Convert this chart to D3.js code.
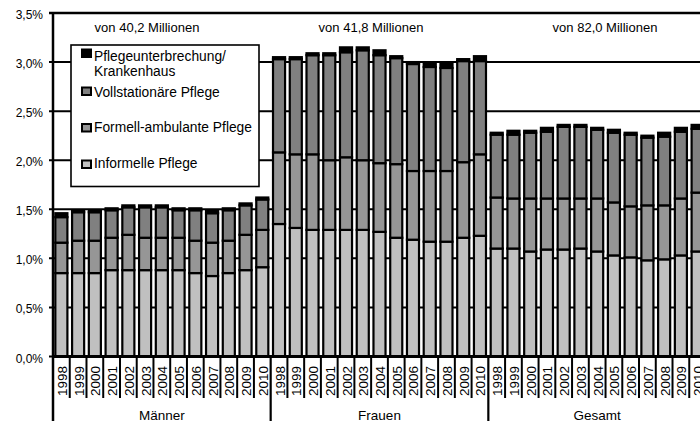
<!DOCTYPE html>
<html><head><meta charset="utf-8">
<script src="https://cdn.jsdelivr.net/npm/d3@7"></script>
<style>
html,body{margin:0;padding:0;background:#fff;overflow:hidden}
text{font-family:"Liberation Sans",Arial,sans-serif;fill:#000}
</style></head>
<body><svg id="c" width="700" height="421"></svg>
<script>
// ---- data ----
const years = ["1998","1999","2000","2001","2002","2003","2004","2005","2006","2007","2008","2009","2010"];
const groups = ["Männer","Frauen","Gesamt"];
const groupTotals = ["von 40,2 Millionen","von 41,8 Millionen","von 82,0 Millionen"];
const seriesNames = ["Informelle Pflege","Formell-ambulante Pflege","Vollstationäre Pflege","Pflegeunterbrechung/ Krankenhaus"];
const yTicks = [0,0.5,1.0,1.5,2.0,2.5,3.0,3.5];
const yTickLabels = ["0,0%","0,5%","1,0%","1,5%","2,0%","2,5%","3,0%","3,5%"];
// values in % (Männer 1998-2010, Frauen 1998-2010, Gesamt 1998-2010)
const informelle = [0.85,0.85,0.85,0.88,0.88,0.88,0.88,0.88,0.85,0.82,0.85,0.88,0.91,
                    1.35,1.31,1.29,1.29,1.29,1.29,1.27,1.21,1.19,1.17,1.17,1.21,1.23,
                    1.10,1.10,1.07,1.09,1.09,1.10,1.07,1.03,1.01,0.98,0.99,1.03,1.07];
const ambulant   = [0.31,0.33,0.33,0.33,0.36,0.33,0.33,0.33,0.33,0.34,0.33,0.36,0.38,
                    0.73,0.75,0.77,0.71,0.74,0.71,0.70,0.75,0.70,0.72,0.72,0.77,0.83,
                    0.52,0.51,0.54,0.52,0.52,0.51,0.54,0.54,0.52,0.56,0.55,0.58,0.60];
const stationaer = [0.26,0.29,0.29,0.28,0.28,0.31,0.31,0.28,0.31,0.30,0.31,0.30,0.31,
                    0.95,0.97,1.01,1.07,1.07,1.12,1.10,1.08,1.09,1.06,1.05,1.03,0.95,
                    0.64,0.65,0.67,0.68,0.73,0.73,0.70,0.71,0.73,0.69,0.70,0.68,0.65];
const krankenhaus= [0.04,0.02,0.02,0.02,0.02,0.02,0.02,0.02,0.02,0.03,0.02,0.02,0.02,
                    0.02,0.02,0.02,0.02,0.05,0.03,0.05,0.02,0.02,0.04,0.04,0.02,0.05,
                    0.02,0.04,0.02,0.04,0.02,0.02,0.02,0.03,0.02,0.02,0.04,0.04,0.04];
const colors = ["#c0c0c0","#969696","#808080","#000000"];

(function(){
// ---- layout ----
const svg = d3.select("#c");
const pLeft = 53, pRight = 706, pTop = 13, pBottom = 356.5;
const y = d3.scaleLinear().domain([0,3.5]).range([pBottom, pTop]);
const gx = d3.scaleBand().domain(groups).range([pLeft, pRight]).padding(0);
const p = 0.28;
const ix = d3.scaleBand().domain(years).range([0, gx.bandwidth()]).paddingInner(p).paddingOuter(p/2);

const rows = [];
groups.forEach((g,gi)=>years.forEach((yr,yi)=>{
  const k = gi*years.length+yi;
  rows.push({group:g, year:yr, s0:informelle[k], s1:ambulant[k], s2:stationaer[k], s3:krankenhaus[k]});
}));
const stacked = d3.stack().keys(["s0","s1","s2","s3"])(rows);

// gridlines
svg.append("g").selectAll("line").data(yTicks).join("line")
  .attr("x1", pLeft-4).attr("x2", 710)
  .attr("y1", d=>y(d)).attr("y2", d=>y(d))
  .attr("stroke","#000").attr("stroke-width", d=>d===3.5?2.6:2);

// bars
svg.append("g").selectAll("g").data(stacked).join("g")
  .attr("fill",(d,i)=>colors[i])
  .selectAll("rect").data(d=>d).join("rect")
  .attr("x", d=>gx(d.data.group)+ix(d.data.year))
  .attr("width", ix.bandwidth())
  .attr("y", d=>y(d[1]))
  .attr("height", d=>Math.max(0,y(d[0])-y(d[1])))
  .attr("stroke","#000").attr("stroke-width",2.2);

// axes lines
svg.append("line").attr("x1",pLeft).attr("x2",pLeft).attr("y1",pTop-1).attr("y2",421)
  .attr("stroke","#000").attr("stroke-width",2.5);
svg.append("line").attr("x1",pLeft).attr("x2",710).attr("y1",pBottom).attr("y2",pBottom)
  .attr("stroke","#000").attr("stroke-width",2.8);

// y tick labels
svg.append("g").selectAll("text").data(yTicks).join("text")
  .attr("x", 43).attr("y", d=>y(d)+6)
  .attr("text-anchor","end").style("font-size","12px")
  .text((d,i)=>yTickLabels[i]);

// year separators and labels
groups.forEach((g,gi)=>{
  const g0 = gx(g);
  years.forEach((yr,yi)=>{
    if(yi>0){
      const sx = g0 + ix.step()*yi;
      svg.append("line").attr("x1",sx).attr("x2",sx).attr("y1",pBottom).attr("y2",398)
        .attr("stroke","#000").attr("stroke-width",2);
    }
    const cx = g0 + ix(yr) + ix.bandwidth()/2;
    svg.append("text").attr("transform",`translate(${cx+5.5},366) rotate(-90)`)
      .attr("text-anchor","end").style("font-size","13.5px").text(yr);
  });
  if(gi>0){
    svg.append("line").attr("x1",g0).attr("x2",g0).attr("y1",pBottom).attr("y2",421)
      .attr("stroke","#000").attr("stroke-width",2.2);
  }
  svg.append("text").attr("x", g0+gx.bandwidth()/2).attr("y",419.5)
    .attr("text-anchor","middle").style("font-size","13.5px").text(g);
});

// top labels
const topLabelX = [147, 371, 605];
svg.append("g").selectAll("text").data(groupTotals).join("text")
  .attr("x",(d,i)=>topLabelX[i]).attr("y",32)
  .attr("text-anchor","middle").style("font-size","13px").text(d=>d);

// legend
const lg = svg.append("g");
lg.append("rect").attr("x",71).attr("y",45).attr("width",188).attr("height",141.5)
  .attr("fill","#fff").attr("stroke","#000").attr("stroke-width",1.6);
const legendItems = [
  {i:3, my:49.5, lines:["Pflegeunterbrechung/","Krankenhaus"], ty:[60.7,76]},
  {i:2, my:87.5, lines:["Vollstationäre Pflege"], ty:[96.7]},
  {i:1, my:124, lines:["Formell-ambulante Pflege"], ty:[131.7]},
  {i:0, my:160.5, lines:["Informelle Pflege"], ty:[168.3]}
];
legendItems.forEach(it=>{
  lg.append("rect").attr("x",82).attr("y",it.my).attr("width",9).attr("height",7.5)
    .attr("fill",colors[it.i]).attr("stroke","#000").attr("stroke-width",2);
  it.lines.forEach((t,k)=>{
    lg.append("text").attr("x",94).attr("y",it.ty[k]).style("font-size","13.8px").text(t);
  });
});
})();
</script></body></html>
